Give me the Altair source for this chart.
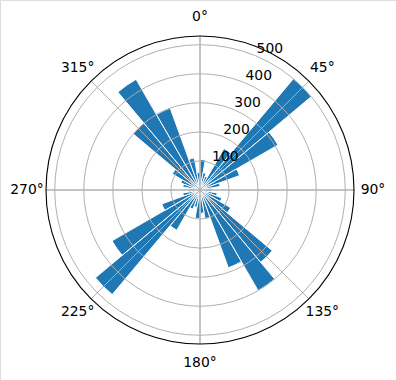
import altair as alt
import pandas as pd

# bin centres (degrees, clockwise from north) and counts
bin_centers = [5, 15, 25, 35, 45, 55, 65, 75, 85, 95, 105, 115,
               125, 135, 145, 155, 165, 175, 185, 195, 205, 215, 225, 235,
               245, 255, 265, 275, 285, 295, 305, 315, 325, 335, 345, 355]
counts = [105, 60, 50, 165, 500, 310, 145, 70, 40, 40, 60, 80,
          122, 325, 400, 285, 100, 80, 98, 60, 70, 160, 470, 350,
          140, 60, 40, 40, 60, 70, 110, 300, 440, 300, 112, 60]
bin_width = 10

angle_ticks = [0, 45, 90, 135, 180, 225, 270, 315]
angle_labels = ["0°", "45°", "90°", "135°", "180°", "225°", "270°", "315°"]
r_ticks = [100, 200, 300, 400, 500]
r_labels = ["100", "200", "300", "400", "500"]
r_max = 530
r_label_angle = 22.5

CX, CY, R = 200, 190, 154
FONT = "DejaVu Sans"

bars = pd.DataFrame({
    "start": [c - bin_width / 2 for c in bin_centers],
    "end": [c + bin_width / 2 for c in bin_centers],
    "count": counts,
})
rings = pd.DataFrame({"r": r_ticks, "a0": 0, "a1": 360})
spokes = pd.DataFrame({"a": angle_ticks, "r": r_max, "r0": 0})
outer = pd.DataFrame({"r": [r_max], "a0": [0], "a1": [360]})
alabels = pd.DataFrame({"a": angle_ticks, "label": angle_labels, "r": r_max})
rlabels = pd.DataFrame({"a": r_label_angle, "r": r_ticks, "label": r_labels})

theta_scale = alt.Scale(domain=[0, 360], range=[0, 6.283185307179586])
r_scale = alt.Scale(type="linear", domain=[0, r_max], range=[0, R], zero=True)

pos = dict(x=alt.value(CX), y=alt.value(CY))

bar_layer = alt.Chart(bars).mark_arc(
    fill="#1f77b4", stroke="white", strokeWidth=1
).encode(
    theta=alt.Theta("start:Q", scale=theta_scale, stack=False),
    theta2="end:Q",
    radius=alt.Radius("count:Q", scale=r_scale),
    radius2=alt.value(0),
    **pos,
)

ring_layer = alt.Chart(rings).mark_arc(
    fill=None, filled=False, stroke="#b0b0b0", strokeWidth=1
).encode(
    theta=alt.Theta("a0:Q", scale=theta_scale, stack=False),
    theta2="a1:Q",
    radius=alt.Radius("r:Q", scale=r_scale),
    **pos,
)

spoke_layer = alt.Chart(spokes).mark_arc(
    filled=False, stroke="#b0b0b0", strokeWidth=1
).encode(
    theta=alt.Theta("a:Q", scale=theta_scale, stack=False),
    theta2="a:Q",
    radius=alt.Radius("r:Q", scale=r_scale),
    radius2="r0:Q",
    **pos,
)

outer_layer = alt.Chart(outer).mark_arc(
    filled=False, stroke="black", strokeWidth=1.1
).encode(
    theta=alt.Theta("a0:Q", scale=theta_scale, stack=False),
    theta2="a1:Q",
    radius=alt.Radius("r:Q", scale=r_scale),
    **pos,
)

alabel_layer = alt.Chart(alabels).mark_text(
    font=FONT, fontSize=13.9, color="black", align="center", baseline="middle",
    radiusOffset=19
).encode(
    theta=alt.Theta("a:Q", scale=theta_scale, stack=False),
    radius=alt.Radius("r:Q", scale=r_scale),
    text="label:N",
    **pos,
)

rlabel_layer = alt.Chart(rlabels).mark_text(
    font=FONT, fontSize=13.9, color="black", align="left", baseline="alphabetic",
    dx=1, dy=-2.5
).encode(
    theta=alt.Theta("a:Q", scale=theta_scale, stack=False),
    radius=alt.Radius("r:Q", scale=r_scale),
    text="label:N",
    **pos,
)

chart = alt.layer(
    bar_layer, ring_layer, spoke_layer, outer_layer, alabel_layer, rlabel_layer
).properties(
    width=396, height=380, padding=0, autosize=alt.AutoSizeParams(type="none")
).configure_view(stroke=None).configure(background="white")

chart.save("out.html", embed_options={"renderer": "svg", "actions": False})
